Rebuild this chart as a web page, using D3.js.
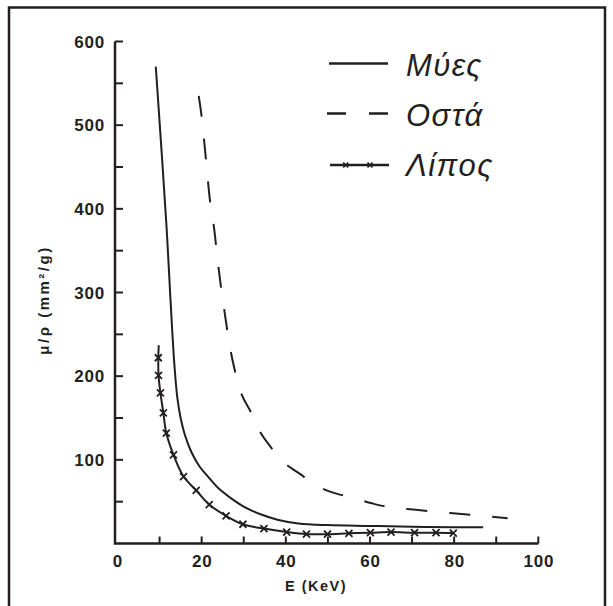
<!DOCTYPE html>
<html lang="el">
<head>
<meta charset="UTF-8">
<title>μ/ρ ως προς E</title>
<script src="https://d3js.org/d3.v7.min.js"></script>
<style>
  body { margin: 0; background: #fff; }
  text { fill: #231f20; }
  .tick-label { font-family: "Liberation Sans", Arial, sans-serif; font-weight: bold; font-size: 17px; letter-spacing: 0.8px; }
  .axis-title { font-family: "Liberation Sans", Arial, sans-serif; font-weight: bold; font-size: 14.5px; letter-spacing: 1.5px; }
  .y-title { letter-spacing: 2.5px; font-size: 15px; }
  .legend-text { font-family: "Liberation Sans", Arial, sans-serif; font-style: italic; font-size: 31px; letter-spacing: 1.5px; }
</style>
</head>
<body>
<svg width="613" height="606"></svg>
<script>
// values (E in keV, mu/rho in mm2/g)
const muscleE  = [9.1, 11.7, 12.5, 13.5, 14.2, 15.0, 16.0, 17.5, 19.5, 21.5, 24, 27, 30, 34, 38, 43, 50, 60, 70, 80, 86.9];
const muscleMu = [570, 375, 300, 215, 175, 150, 130, 110, 92, 80, 66, 54, 44, 35, 28.5, 24, 22, 21, 20, 19.5, 19.4];

const boneE  = [19.3, 20.0, 21.0, 22.0, 22.8, 24.1, 25.2, 27.3, 29.6, 31.6, 33.8, 36.3, 40.0, 43.7, 46.3, 50.5, 55.6, 60.5, 65, 70.3, 79, 86, 92.7];
const boneMu = [535, 510, 460, 409, 383, 326, 285, 220, 177, 158, 134, 116, 95, 82, 72, 62, 55, 48, 43, 40.5, 36.5, 33.5, 30.3];

// fat: line starts a little above the first marker
const fatStart = [9.8, 237];
const fatE  = [9.7, 9.75, 10.2, 10.9, 11.6, 13.3, 15.7, 18.7, 21.8, 25.8, 29.8, 34.8, 40.2, 44.9, 49.9, 55.0, 60.1, 65.0, 70.6, 75.7, 79.8];
const fatMu = [222, 201, 180, 156, 132, 106, 80, 63.5, 46.5, 33, 23, 17.8, 13.7, 11.2, 11.2, 12.2, 12.9, 13.7, 12.9, 12.9, 12.5];

const xTicks = d3.range(10, 101, 10);
const xLabels = [0, 20, 40, 60, 80, 100];
const yTicks = d3.range(50, 601, 50);
const yLabels = [100, 200, 300, 400, 500, 600];

const legendNames = ["Μύες", "Οστά", "Λίπος"];

const ink = "#231f20";
const svg = d3.select("svg");

const x = d3.scaleLinear().domain([0, 100]).range([117.5, 538.3]);
const y = d3.scaleLinear().domain([0, 600]).range([543.5, 41.5]);
const axisX = 115;

// frame
svg.append("path")
    .attr("d", "M9,606 V7.5 H605 V606")
    .attr("fill", "none")
    .attr("stroke", ink)
    .attr("stroke-width", 2.5);

// axes lines
svg.append("path")
    .attr("d", `M${axisX},${y(600)} V${y(0)} H${x(100)}`)
    .attr("fill", "none")
    .attr("stroke", ink)
    .attr("stroke-width", 2.5);

// ticks (pointing inward)
svg.selectAll(".xt").data(xTicks).enter().append("line")
    .attr("x1", d => x(d)).attr("x2", d => x(d))
    .attr("y1", y(0)).attr("y2", y(0) - 7)
    .attr("stroke", ink).attr("stroke-width", 2);

svg.selectAll(".yt").data(yTicks).enter().append("line")
    .attr("x1", axisX).attr("x2", axisX + 8)
    .attr("y1", d => y(d)).attr("y2", d => y(d))
    .attr("stroke", ink).attr("stroke-width", 2);

svg.selectAll(".xl").data(xLabels).enter().append("text")
    .attr("class", "tick-label")
    .attr("x", d => x(d) + 0.5)
    .attr("y", 567)
    .attr("text-anchor", "middle")
    .text(d => d);

svg.selectAll(".yl").data(yLabels).enter().append("text")
    .attr("class", "tick-label")
    .attr("x", 105)
    .attr("y", d => y(d))
    .attr("dy", "0.36em")
    .attr("text-anchor", "end")
    .text(d => d);

// axis titles
svg.append("text")
    .attr("class", "axis-title")
    .attr("x", 316).attr("y", 591)
    .attr("text-anchor", "middle")
    .text("E (KeV)");

svg.append("text")
    .attr("class", "axis-title y-title")
    .attr("transform", "translate(49,300) rotate(-90)")
    .attr("text-anchor", "middle")
    .text("μ/ρ (mm²/g)");

// curves
const line = d3.line()
    .x(d => x(d[0]))
    .y(d => y(d[1]))
    .curve(d3.curveCatmullRom.alpha(0.5));

const muscle = muscleE.map((e, i) => [e, muscleMu[i]]);
const bone = boneE.map((e, i) => [e, boneMu[i]]);
const fat = fatE.map((e, i) => [e, fatMu[i]]);

svg.append("path").attr("d", line(muscle))
    .attr("fill", "none").attr("stroke", ink).attr("stroke-width", 2);

svg.append("path").attr("d", line(bone))
    .attr("fill", "none").attr("stroke", ink).attr("stroke-width", 2)
    .attr("stroke-dasharray", "21,22");

svg.append("path").attr("d", line([fatStart].concat(fat)))
    .attr("fill", "none").attr("stroke", ink).attr("stroke-width", 2);

const cross = r => `M${-r},${-r}L${r},${r}M${-r},${r}L${r},${-r}`;

svg.selectAll(".fm").data(fat).enter().append("path")
    .attr("transform", d => `translate(${x(d[0])},${y(d[1])})`)
    .attr("d", cross(3.5))
    .attr("fill", "none").attr("stroke", ink).attr("stroke-width", 1.8);

// legend
const lg = svg.append("g");
const legY = [63.5, 113.5, 165];
lg.append("line").attr("x1", 329).attr("x2", 388).attr("y1", legY[0]).attr("y2", legY[0])
    .attr("stroke", ink).attr("stroke-width", 2.5);
lg.append("line").attr("x1", 327).attr("x2", 388).attr("y1", legY[1]).attr("y2", legY[1])
    .attr("stroke", ink).attr("stroke-width", 2.5).attr("stroke-dasharray", "19,23");
lg.append("line").attr("x1", 330).attr("x2", 389).attr("y1", legY[2]).attr("y2", legY[2])
    .attr("stroke", ink).attr("stroke-width", 2.5);
[345.7, 370].forEach(cx => {
    lg.append("path").attr("transform", `translate(${cx},${legY[2]})`)
        .attr("d", cross(2.5))
        .attr("fill", "none").attr("stroke", ink).attr("stroke-width", 1.6);
});

lg.selectAll("text").data(legendNames).enter().append("text")
    .attr("class", "legend-text")
    .attr("x", 406)
    .attr("y", (d, i) => [75.7, 125.5, 175.5][i])
    .text(d => d);
</script>
</body>
</html>
